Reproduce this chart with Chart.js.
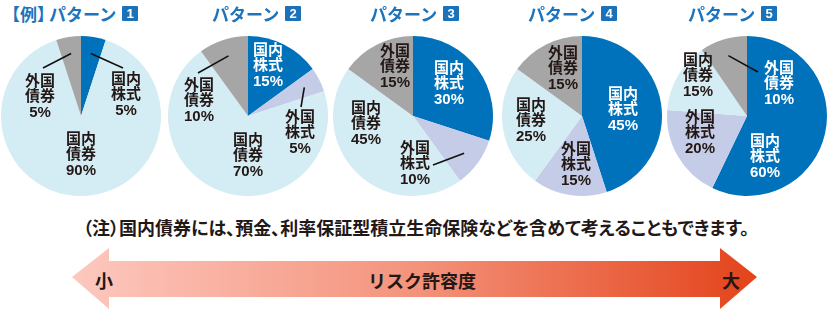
<!DOCTYPE html>
<html>
<head>
<meta charset="utf-8">
<script src="https://cdn.jsdelivr.net/npm/chart.js@4"></script>
<style>
  body { margin: 0; width: 828px; height: 310px; overflow: hidden; background: #fff; position: relative;
         font-family: "Liberation Sans", "Noto Sans CJK JP", sans-serif; }
  canvas { position: absolute; }
  .title { position: absolute; top: 3px; height: 20px; display: flex; align-items: center;
           color: #1d74bb; font-weight: bold; font-size: 17px; font-family: "Noto Sans CJK JP", sans-serif; white-space: nowrap; }
  .rei { margin-right: -5px; }
  .num { display: inline-block; width: 16px; height: 15px; margin-left: 6px; background: #1b72b9; color: #fff;
         font: bold 13px "Liberation Sans", sans-serif; line-height: 15px; text-align: center; border-radius: 1px; }
  .note { position: absolute; left: 0; width: 832px; top: 216px; line-height: 22px; text-align: center; font-size: 18px;
          font-weight: bold; color: #231815; font-family: "Noto Sans CJK JP", sans-serif; white-space: nowrap;
          font-feature-settings: "palt"; }
  .risk { position: absolute; top: 268px; font-size: 18px; font-weight: bold; color: #231815;
          font-family: "Noto Sans CJK JP", sans-serif; line-height: 24px; white-space: nowrap; }
</style>
</head>
<body>
<svg width="828" height="310" style="position:absolute;left:0;top:0">
  <defs>
    <linearGradient id="riskGrad" x1="72" y1="0" x2="757" y2="0" gradientUnits="userSpaceOnUse">
      <stop offset="0" stop-color="#fdc8bf"/>
      <stop offset="0.5" stop-color="#f4937c"/>
      <stop offset="1" stop-color="#e3431a"/>
    </linearGradient>
  </defs>
  <polygon fill="url(#riskGrad)" points="72,277 109,248 109,261 720,261 720,248 757,277 720,309 720,297 109,297 109,309"/>
</svg>
<div class="note">（注）国内債券には、預金、利率保証型積立生命保険などを含めて考えることもできます。</div>
<div class="risk" style="left:95px">小</div>
<div class="risk" style="left:368px">リスク許容度</div>
<div class="risk" style="left:722px">大</div>

<script>
// data
const categories = ['国内株式', '外国株式', '国内債券', '外国債券'];
const pattern1 = [5, 0, 90, 5];
const pattern2 = [15, 5, 70, 10];
const pattern3 = [30, 10, 45, 15];
const pattern4 = [45, 15, 25, 15];
const pattern5 = [60, 20, 15, 10];
const patterns = [pattern1, pattern2, pattern3, pattern4, pattern5];
const titlePrefix = ['【例】', '', '', '', ''];
const titleNumbers = ['1', '2', '3', '4', '5'];

const colors = ['#0071bb', '#c5cce8', '#d4ecf3', '#a6a6a6'];
const darkText = '#231815';

// layout (pixels, relative to pie centre)
const pieCenters = [81, 248, 413, 582, 747];
const pieY = 116;
const titleLeft = [3, 212, 370, 528, 688];
const labelPos = [
    [[45, -21], null, [0, 39], [-41, -19]],
    [[20, -50], [52, 17], [0, 40], [-49, -15]],
    [[36, -32], [2, 48], [-47, 8], [-18, -49]],
    [[41, -6], [-6, 49], [-51, 5], [-19, -47]],
    [[18, 41], [-47, 17], [-49, -40], [32, -32]]
];
// leader lines: slice index -> end point
const leaders = [
    {0: [42, -48], 3: [-38, -48]},
    {1: [53, -9], 3: [-50, -43]},
    {1: [20, 49]},
    {},
    {3: [11, -44]}
];

const labelPlugin = {
    id: 'sliceLabels',
    afterDatasetsDraw(chart) {
        const ctx = chart.ctx;
        const idx = chart.options.plugins.sliceLabels.index;
        const arcs = chart.getDatasetMeta(0).data;
        const values = chart.data.datasets[0].data;
        const cx = arcs[0].x, cy = arcs[0].y;
        ctx.save();
        // leader lines
        ctx.strokeStyle = '#111';
        ctx.lineWidth = 1.6;
        Object.keys(leaders[idx]).forEach(k => {
            const a = arcs[k];
            const mid = (a.startAngle + a.endAngle) / 2;
            const r = a.outerRadius * 0.79;
            const end = leaders[idx][k];
            ctx.beginPath();
            ctx.moveTo(cx + Math.cos(mid) * r, cy + Math.sin(mid) * r);
            ctx.lineTo(cx + end[0], cy + end[1]);
            ctx.stroke();
        });
        ctx.font = 'bold 15px "Liberation Sans", "Noto Sans CJK JP", sans-serif';
        ctx.textAlign = 'center';
        ctx.textBaseline = 'middle';
        values.forEach((v, i) => {
            const p = labelPos[idx][i];
            if (!v || !p) return;
            const x = cx + p[0], y = cy + p[1];
            // white text when it sits on the dark blue slice
            ctx.fillStyle = arcs[0].inRange(x, y, true) ? '#fff' : darkText;
            const name = categories[i];
            const lines = [name.slice(0, 2), name.slice(2), v + '%'];
            lines.forEach((t, j) => ctx.fillText(t, x, y + (j - 1) * 15.5));
        });
        ctx.restore();
    }
};

patterns.forEach((values, i) => {
    const canvas = document.createElement('canvas');
    canvas.width = 170;
    canvas.height = 170;
    canvas.style.left = (pieCenters[i] - 85) + 'px';
    canvas.style.top = (pieY - 85) + 'px';
    document.body.appendChild(canvas);

    const title = document.createElement('div');
    title.className = 'title';
    title.style.left = titleLeft[i] + 'px';
    const prefix = titlePrefix[i] ? '<span class="rei">' + titlePrefix[i] + '</span>' : '';
    title.innerHTML = prefix + 'パターン<span class="num">' + titleNumbers[i] + '</span>';
    document.body.appendChild(title);

    new Chart(canvas, {
        type: 'pie',
        data: {
            labels: categories,
            datasets: [{
                data: values,
                backgroundColor: colors,
                borderWidth: 0
            }]
        },
        options: {
            responsive: false,
            animation: false,
            devicePixelRatio: 1,
            layout: { padding: 5 },
            plugins: {
                legend: { display: false },
                tooltip: { enabled: false },
                sliceLabels: { index: i }
            }
        },
        plugins: [labelPlugin]
    });
});
</script>
</body>
</html>
